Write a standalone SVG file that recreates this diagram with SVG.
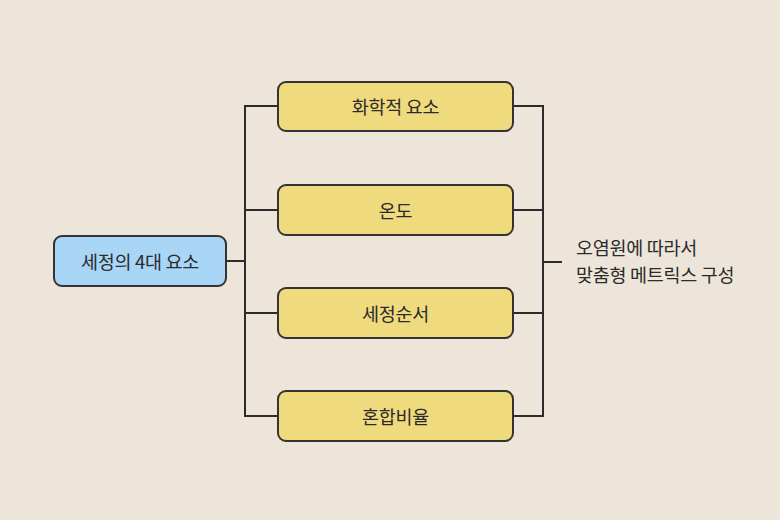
<svg xmlns="http://www.w3.org/2000/svg" width="780" height="520" viewBox="0 0 780 520">
<style>
.node{stroke:#333;stroke-width:2}
.blue{fill:#A9D5F6}
.yel{fill:#EFDA7E}
text{font-family:"Noto Sans CJK KR","Noto Sans",sans-serif;font-size:18.5px;fill:#2b2b2b;letter-spacing:-0.3px}
.c{text-anchor:middle;dominant-baseline:central}
.conn{fill:none;stroke:#2b2b2b;stroke-width:2}
</style>
<rect width="780" height="520" fill="#EDE5DA"/>
<g id="connectors">
<path class="conn" d="M226 261H245M278 106H245V416H278M245 210H278M245 313H278"/>
<path class="conn" d="M513 106H543V416H513M513 210H543M513 313H543M543 262H562"/>
</g>
<g id="root"><rect class="node blue" x="54" y="236" width="172" height="50" rx="8"/><text class="c" x="140" y="261">세정의 4대 요소</text></g>
<g id="n1"><rect class="node yel" x="278" y="82" width="235" height="49" rx="8"/><text class="c" x="395.5" y="106">화학적 요소</text></g>
<g id="n2"><rect class="node yel" x="278" y="185" width="235" height="50" rx="8"/><text class="c" x="395.5" y="210">온도</text></g>
<g id="n3"><rect class="node yel" x="278" y="288" width="235" height="50" rx="8"/><text class="c" x="395.5" y="313">세정순서</text></g>
<g id="n4"><rect class="node yel" x="278" y="391" width="235" height="50" rx="8"/><text class="c" x="395.5" y="416">혼합비율</text></g>
<g id="note"><text x="576" y="255">오염원에 따라서</text><text x="576" y="282">맞춤형 메트릭스 구성</text></g>
</svg>
